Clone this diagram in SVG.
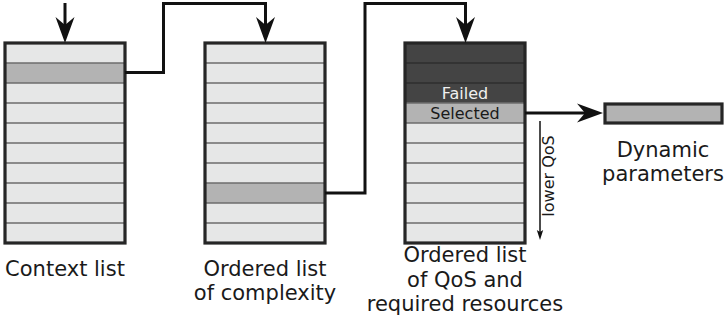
<svg xmlns="http://www.w3.org/2000/svg" width="724" height="324" viewBox="0 0 724 324">
<style>
.lbl{font-family:"DejaVu Sans","Liberation Sans",sans-serif;font-size:21px;fill:#1a1a1a;text-anchor:middle}
.cell{font-family:"DejaVu Sans","Liberation Sans",sans-serif;font-size:16px;text-anchor:middle}
.row{fill:#e6e7e7}
.hl{fill:#b3b3b3}
.dk{fill:#444444}
.div{stroke:#6e6e6e;stroke-width:1.5;fill:none}
.divd{stroke:#2e2e2e;stroke-width:1.5;fill:none}
.box{fill:none;stroke:#262626;stroke-width:3.2}
.conn{fill:none;stroke:#111111;stroke-width:3}
</style>
<defs>
<marker id="ah" markerUnits="userSpaceOnUse" markerWidth="30" markerHeight="22" refX="8" refY="11" orient="auto">
<path d="M0,1.5 L26,11 L0,20.5 L8,11 Z" fill="#111111"/>
</marker>
<marker id="ahs" markerUnits="userSpaceOnUse" markerWidth="12" markerHeight="8" refX="2" refY="4" orient="auto">
<path d="M0,0.8 L10,4 L0,7.2 L2,4 Z" fill="#111111"/>
</marker>
</defs>

<g id="context-list">
<rect class="row" x="5" y="43" width="120" height="200"/>
<rect class="hl" x="5" y="63" width="120" height="20"/>
<path class="div" d="M5,63H125M5,83H125M5,103H125M5,123H125M5,143H125M5,163H125M5,183H125M5,203H125M5,223H125"/>
<rect class="box" x="5" y="43" width="120" height="200"/>
<text class="lbl" x="65" y="276">Context list</text>
</g>

<g id="complexity-list">
<rect class="row" x="205" y="43" width="120" height="200"/>
<rect class="hl" x="205" y="183" width="120" height="20"/>
<path class="div" d="M205,63H325M205,83H325M205,103H325M205,123H325M205,143H325M205,163H325M205,183H325M205,203H325M205,223H325"/>
<rect class="box" x="205" y="43" width="120" height="200"/>
<text class="lbl" x="265" y="276">Ordered list</text>
<text class="lbl" x="265" y="300">of complexity</text>
</g>

<g id="qos-list">
<rect class="row" x="405" y="43" width="120" height="200"/>
<rect class="dk" x="405" y="43" width="120" height="60"/>
<rect class="hl" x="405" y="103" width="120" height="20"/>
<path class="divd" d="M405,63H525M405,83H525"/>
<path class="div" d="M405,103H525M405,123H525M405,143H525M405,163H525M405,183H525M405,203H525M405,223H525"/>
<rect class="box" x="405" y="43" width="120" height="200"/>
<text class="cell" x="465" y="98.5" fill="#f0f0f0">Failed</text>
<text class="cell" x="465" y="119" fill="#1a1a1a">Selected</text>
<text class="lbl" x="465" y="262">Ordered list</text>
<text class="lbl" x="465" y="287">of QoS and</text>
<text class="lbl" x="465" y="311">required resources</text>
</g>

<g id="dynamic-parameters">
<rect class="hl" x="605" y="104" width="117" height="19" stroke="#262626" stroke-width="3.2"/>
<text class="lbl" x="663" y="157">Dynamic</text>
<text class="lbl" x="663" y="181">parameters</text>
</g>

<g id="lower-qos">
<text class="cell" transform="translate(554,176) rotate(-90)" fill="#1a1a1a">lower QoS</text>
</g>

<g id="connectors">
<path class="conn" d="M65,3 V25" marker-end="url(#ah)"/>
<path class="conn" d="M125,72.5 H163.5 V3.5 H265.5 V25" marker-end="url(#ah)"/>
<path class="conn" d="M325,193 H365 V3.5 H465.5 V25" marker-end="url(#ah)"/>
<path class="conn" d="M525,113 H585" marker-end="url(#ah)"/>
<path d="M540,121 V232" stroke="#111111" stroke-width="1.5" fill="none" marker-end="url(#ahs)"/>
</g>
</svg>
